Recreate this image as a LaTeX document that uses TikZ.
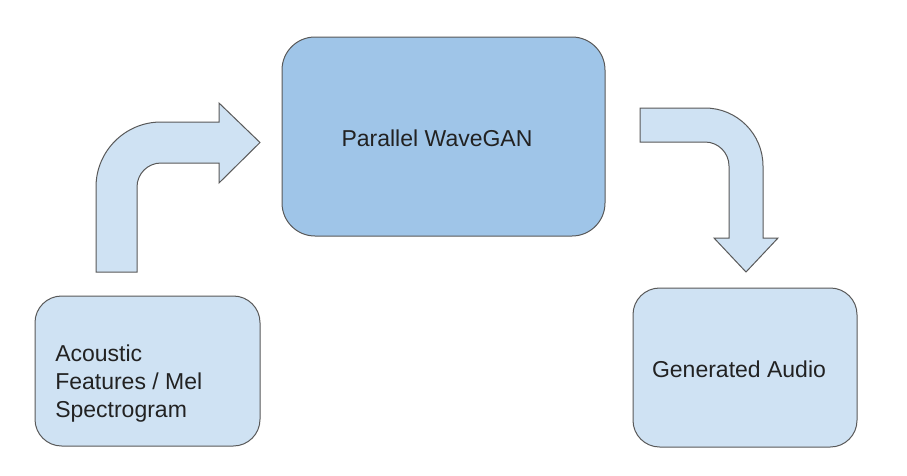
\documentclass[tikz,border=0pt]{standalone}
\usepackage{fontspec}
\setmainfont{Liberation Sans}
\definecolor{boxdark}{HTML}{9FC5E8}
\definecolor{boxlight}{HTML}{CFE2F3}
\definecolor{edge}{HTML}{595959}
\definecolor{txt}{HTML}{222222}
\begin{document}
\begin{tikzpicture}[x=0.75pt,y=-0.75pt,
  box/.style={draw=edge,line width=0.75pt,rounded corners=#1},
  lbl/.style={inner sep=0pt,text=txt,font=\fontsize{17.25}{21}\selectfont},
  blockarrow/.style={draw=edge,fill=boxlight,line width=0.75pt,line join=miter}]
\useasboundingbox[fill=white] (0,0) rectangle (907,475);
% boxes
\draw[box=24.75pt,fill=boxdark] (282,37) rectangle (605,236);
\draw[box=20pt,fill=boxlight] (35,296) rectangle (260,446);
\draw[box=20pt,fill=boxlight] (633,288) rectangle (857,447);
\node[lbl,anchor=base] (pw) at (437,146) {Parallel WaveGAN};
\node[lbl,anchor=west,align=left] (af) at (55,384) {Acoustic\\Features / Mel\\Spectrogram};
\node[lbl,anchor=base] (ga) at (739,377) {Generated Audio};
% bent arrow up-right
\draw[blockarrow] (96,272) -- (96,187) arc[start angle=180,end angle=90,radius=48.75pt]
  -- (219,122) -- (219,103) -- (260,142.5) -- (219,183) -- (219,163) -- (161,163)
  arc[start angle=90,end angle=180,radius=18pt] -- (137,272) -- cycle;
% bent arrow right-down
\draw[blockarrow] (640,108) -- (705,108) arc[start angle=90,end angle=0,radius=43.5pt]
  -- (763,238) -- (778,238) -- (746,272) -- (714,238) -- (729,238) -- (729,166)
  arc[start angle=0,end angle=90,radius=18pt] -- (640,142) -- cycle;
\end{tikzpicture}
\end{document}
